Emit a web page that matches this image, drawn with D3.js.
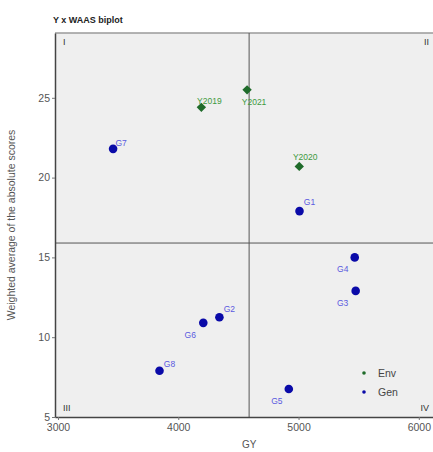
<!DOCTYPE html>
<html>
<head>
<meta charset="utf-8">
<script src="https://cdn.jsdelivr.net/npm/d3@7"></script>
<style>
  body { margin: 0; background: #fff; }
  svg { font-family: "Liberation Sans", Arial, sans-serif; display: block; }
</style>
</head>
<body>
<div id="chart"></div>
<script>
// data
const envNames = ["Y2019", "Y2021", "Y2020"];
const envGY = [4192, 4572, 5006];
const envWaas = [24.4, 25.5, 20.7];

const genNames = ["G7", "G1", "G4", "G3", "G2", "G6", "G8", "G5"];
const genGY = [3458, 5008, 5467, 5475, 4342, 4208, 3844, 4919];
const genWaas = [21.8, 17.9, 15.0, 12.9, 11.25, 10.9, 7.9, 6.75];

const xTicks = [3000, 4000, 5000, 6000];
const yTicks = [5, 10, 15, 20, 25];
const meanGY = 4589;
const meanWaas = 15.9;

// label nudges (repel-ish)
const envNudge = { Y2019: [8, -6], Y2021: [7, 12], Y2020: [6, -9] };
const genNudge = { G7: [8, -6], G1: [10, -9], G4: [-12, 12], G3: [-13, 12], G2: [10, -8], G6: [-13, 12], G8: [10, -7], G5: [-12, 12] };

const width = 433, height = 452;
const margin = { top: 33, right: 0, bottom: 35, left: 55 };

const svg = d3.select("#chart").append("svg")
    .attr("width", width)
    .attr("height", height);

const x = d3.scaleLinear().domain([2975, 6118]).range([margin.left, width - margin.right]);
const y = d3.scaleLinear().domain([5, 29.06]).range([height - margin.bottom, margin.top]);

// panel
svg.append("rect")
    .attr("x", margin.left).attr("y", margin.top)
    .attr("width", width - margin.right - margin.left)
    .attr("height", height - margin.bottom - margin.top)
    .attr("fill", "#efefef");

svg.append("line")
    .attr("x1", margin.left).attr("x2", width)
    .attr("y1", margin.top).attr("y2", margin.top)
    .attr("stroke", "#9a9a9a").attr("stroke-width", 1.5);

// quadrant lines
svg.append("line")
    .attr("x1", x(meanGY)).attr("x2", x(meanGY))
    .attr("y1", margin.top).attr("y2", height - margin.bottom)
    .attr("stroke", "#555").attr("stroke-width", 1);
svg.append("line")
    .attr("x1", margin.left).attr("x2", width)
    .attr("y1", y(meanWaas)).attr("y2", y(meanWaas))
    .attr("stroke", "#555").attr("stroke-width", 1);

// axes
const xAxis = svg.append("g")
    .attr("transform", `translate(0,${height - margin.bottom})`)
    .call(d3.axisBottom(x).tickValues(xTicks).tickFormat(d3.format("d")).tickSize(3).tickPadding(4).tickSizeOuter(0));
const yAxis = svg.append("g")
    .attr("transform", `translate(${margin.left},0)`)
    .call(d3.axisLeft(y).tickValues(yTicks).tickSize(3).tickPadding(2).tickSizeOuter(0));

[xAxis, yAxis].forEach(g => {
    g.select(".domain").attr("stroke", "#444").attr("stroke-width", 1.5);
    g.selectAll(".tick line").attr("stroke", "#777");
    g.selectAll(".tick text").attr("fill", "#555").attr("font-size", 10.5);
});

svg.append("text")
    .attr("x", x(meanGY)).attr("y", 448)
    .attr("text-anchor", "middle")
    .attr("font-size", 10).attr("fill", "#555")
    .text("GY");

svg.append("text")
    .attr("transform", `translate(15,${(margin.top + height - margin.bottom) / 2}) rotate(-90)`)
    .attr("text-anchor", "middle")
    .attr("font-size", 10.5).attr("fill", "#555")
    .text("Weighted average of the absolute scores");

svg.append("text")
    .attr("x", 53).attr("y", 23)
    .attr("font-size", 9).attr("font-weight", "bold").attr("fill", "#222")
    .text("Y x WAAS biplot");

// quadrant numbers
const quads = [
    ["I", margin.left + 8, margin.top + 12, "start"],
    ["II", width - 4, margin.top + 12, "end"],
    ["III", margin.left + 8, height - margin.bottom - 6, "start"],
    ["IV", width - 4, height - margin.bottom - 6, "end"]
];
svg.append("g").selectAll("text")
    .data(quads)
    .join("text")
    .attr("x", d => d[1]).attr("y", d => d[2])
    .attr("text-anchor", d => d[3])
    .attr("font-size", 9).attr("fill", "#333")
    .text(d => d[0]);

const env = envNames.map((n, i) => ({ name: n, gy: envGY[i], w: envWaas[i] }));
const gen = genNames.map((n, i) => ({ name: n, gy: genGY[i], w: genWaas[i] }));

// env points (diamonds)
svg.append("g").selectAll("path")
    .data(env)
    .join("path")
    .attr("d", d3.symbol(d3.symbolSquare, 44))
    .attr("transform", d => `translate(${x(d.gy)},${y(d.w)}) rotate(45)`)
    .attr("fill", "#1f6b2a");

// gen points
svg.append("g").selectAll("circle")
    .data(gen)
    .join("circle")
    .attr("cx", d => x(d.gy)).attr("cy", d => y(d.w))
    .attr("r", 4.3)
    .attr("fill", "#0a0aa8");

svg.append("g").selectAll("text")
    .data(env)
    .join("text")
    .attr("x", d => x(d.gy) + envNudge[d.name][0])
    .attr("y", d => y(d.w) + envNudge[d.name][1])
    .attr("text-anchor", "middle").attr("dy", "0.35em")
    .attr("font-size", 8.5).attr("fill", "#3e9a3e")
    .text(d => d.name);

svg.append("g").selectAll("text")
    .data(gen)
    .join("text")
    .attr("x", d => x(d.gy) + genNudge[d.name][0])
    .attr("y", d => y(d.w) + genNudge[d.name][1])
    .attr("text-anchor", "middle").attr("dy", "0.35em")
    .attr("font-size", 8.5).attr("fill", "#5a5ae0")
    .text(d => d.name);

// legend
const legend = svg.append("g").attr("transform", "translate(364,373)");
const legItems = [["Env", "#1f6b2a"], ["Gen", "#0a0aa8"]];
legend.selectAll("g")
    .data(legItems)
    .join("g")
    .attr("transform", (d, i) => `translate(0,${i * 19})`)
    .call(g => g.append("circle").attr("r", 1.8).attr("fill", d => d[1]))
    .call(g => g.append("text")
        .attr("x", 14).attr("dy", "0.35em")
        .attr("font-size", 10.5).attr("fill", "#444")
        .text(d => d[0]));
</script>
</body>
</html>
